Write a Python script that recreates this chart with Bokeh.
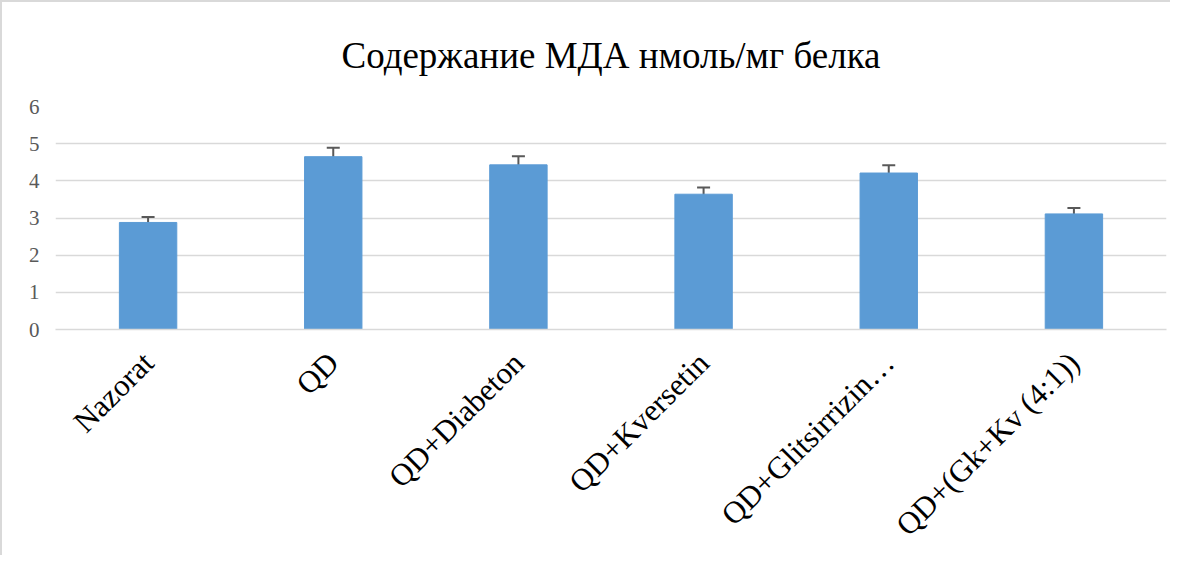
import math
from bokeh.plotting import figure
from bokeh.models import ColumnDataSource, Whisker, FactorRange
from bokeh.embed import file_html
from bokeh.resources import INLINE

categories = ["Nazorat", "QD", "QD+Diabeton", "QD+Kversetin", "QD+Glitsirrizin\u2026", "QD+(Gk+Kv (4:1))"]
values = [2.88, 4.65, 4.43, 3.64, 4.21, 3.11]
errors = [0.15, 0.24, 0.23, 0.18, 0.21, 0.16]

src = ColumnDataSource(dict(
    cat=categories,
    val=values,
    upper=[v + e for v, e in zip(values, errors)],
    lower=[v - e for v, e in zip(values, errors)],
))

p = figure(x_range=FactorRange(*categories), y_range=(0, 6), width=1170, height=555,
           output_backend="svg", toolbar_location=None,
           min_border_left=53, min_border_right=6, min_border_top=102, min_border_bottom=227)
p.styles = {"border-left": "2px solid #d9d9d9", "border-top": "2px solid #d9d9d9"}

p.title.text = "Содержание МДА нмоль/мг белка"
p.title.align = "center"
p.title.text_font = "Liberation Serif"
p.title.text_font_size = "37px"
p.title.text_font_style = "normal"
p.title.text_color = "#000000"
p.title.standoff = 61

p.vbar(x="cat", top="val", width=0.31, source=src, fill_color="#5b9bd5", line_color="#5b9bd5")

w = Whisker(base="cat", upper="upper", lower="lower", source=src,
            line_color="#595959", line_width=2)
w.upper_head.size = 13
w.lower_head.size = 13
w.upper_head.line_color = "#595959"
w.lower_head.line_color = "#595959"
w.upper_head.line_width = 2
w.lower_head.line_width = 2
p.add_layout(w)

p.outline_line_color = None
p.xgrid.grid_line_color = None
p.ygrid.grid_line_color = "#d9d9d9"
p.ygrid.grid_line_width = 1.5
p.yaxis.ticker = [0, 1, 2, 3, 4, 5, 6]
p.yaxis.axis_line_color = None
p.yaxis.major_tick_line_color = None
p.yaxis.minor_tick_line_color = None
p.yaxis.major_label_text_font = "Liberation Serif"
p.yaxis.major_label_text_font_size = "21px"
p.yaxis.major_label_text_color = "#595959"
p.yaxis.major_label_standoff = 10

p.xaxis.axis_line_color = "#d9d9d9"
p.xaxis.axis_line_width = 1.5
p.xaxis.major_tick_line_color = None
p.xaxis.minor_tick_line_color = None
p.xaxis.major_label_orientation = math.pi / 4
p.xaxis.major_label_text_font = "Liberation Serif"
p.xaxis.major_label_text_font_size = "31px"
p.xaxis.major_label_text_color = "#000000"
p.xaxis.major_label_standoff = 22

open("out.html", "w").write(file_html(p, INLINE))
